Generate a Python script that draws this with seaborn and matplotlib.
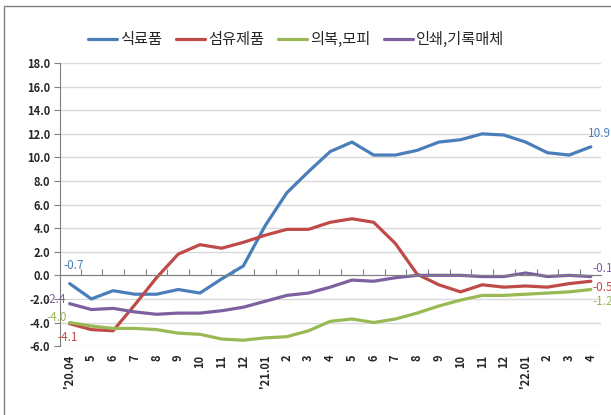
import pandas as pd
import matplotlib.pyplot as plt
import matplotlib.patches as mpatches
import seaborn as sns

# Monthly data, '20.04 ~ '22.04
months = ["'20.04", "5", "6", "7", "8", "9", "10", "11", "12",
          "'21.01", "2", "3", "4", "5", "6", "7", "8", "9", "10", "11", "12",
          "'22.01", "2", "3", "4"]
food = [-0.7, -2.0, -1.3, -1.6, -1.6, -1.2, -1.5, -0.3, 0.8,
        4.2, 7.0, 8.8, 10.5, 11.3, 10.2, 10.2, 10.6, 11.3, 11.5, 12.0, 11.9,
        11.3, 10.4, 10.2, 10.9]
textile = [-4.1, -4.6, -4.7, -2.5, -0.2, 1.8, 2.6, 2.3, 2.8,
           3.4, 3.9, 3.9, 4.5, 4.8, 4.5, 2.7, 0.1, -0.8, -1.4, -0.8, -1.0,
           -0.9, -1.0, -0.7, -0.5]
apparel = [-4.0, -4.3, -4.5, -4.5, -4.6, -4.9, -5.0, -5.4, -5.5,
           -5.3, -5.2, -4.7, -3.9, -3.7, -4.0, -3.7, -3.2, -2.6, -2.1, -1.7, -1.7,
           -1.6, -1.5, -1.4, -1.2]
printing = [-2.4, -2.9, -2.8, -3.1, -3.3, -3.2, -3.2, -3.0, -2.7,
            -2.2, -1.7, -1.5, -1.0, -0.4, -0.5, -0.2, 0.0, 0.0, 0.0, -0.1, -0.1,
            0.2, -0.1, 0.0, -0.1]
series_names = ['식료품', '섬유제품', '의복,모피', '인쇄,기록매체']
colors = ['#4A7EBB', '#BE4B48', '#98B954', '#7D60A0']

series = [food, textile, apparel, printing]
rows = []
for name, vals in zip(series_names, series):
    for i, v in enumerate(vals):
        rows.append({'idx': i, 'value': v, 'series': name})
df = pd.DataFrame(rows)

sns.set_style('white')
plt.rcParams['font.family'] = ['Noto Sans CJK KR', 'DejaVu Sans']

fig = plt.figure(figsize=(6.11, 4.15), dpi=100)
ax = fig.add_axes([0.098, 0.166, 0.885, 0.682])

sns.lineplot(data=df, x='idx', y='value', hue='series', hue_order=series_names,
             palette=colors, linewidth=2.3, sort=False, ax=ax)

ax.set_ylim(-6, 18)
ax.set_xlim(-0.45, len(months) - 0.55)
ax.set_yticks(range(-6, 19, 2))
ax.set_yticklabels([f'{v:.1f}' for v in range(-6, 19, 2)], fontsize=8, fontweight='bold')
ax.yaxis.grid(True, color='#D9D9D9', linewidth=1)
ax.tick_params(axis='y', length=4, color='#808080', direction='out', pad=3, left=True)
for s in ['top', 'right']:
    ax.spines[s].set_visible(False)
ax.spines['left'].set_color('#808080')

# category axis line at zero with ticks between categories
ax.spines['bottom'].set_position(('data', 0))
ax.spines['bottom'].set_color('#808080')
ax.set_xticks([i + 0.5 for i in range(len(months) - 1)])
ax.set_xticklabels([])
ax.tick_params(axis='x', direction='in', length=4, color='#808080', bottom=True)
ax.set_xlabel('')
ax.set_ylabel('')

# month labels at the bottom
sec = ax.secondary_xaxis(0)
sec.set_xticks(range(len(months)))
sec.set_xticklabels(months, rotation=90, fontsize=8, fontweight='bold')
sec.tick_params(length=0, pad=6)
sec.spines['bottom'].set_visible(False)

# first / last value labels (offsets in pixels)
first_offsets = [(4, 18), (-2, -14), (-13, 5), (-14, 4)]
for vals, c, off in zip(series, colors, first_offsets):
    ax.annotate(f'{vals[0]:.1f}', (0, vals[0]), xytext=off, textcoords='offset pixels',
                color=c, fontsize=8.5, ha='center', va='center')
last_offsets = [(-3, 13), (2, -6), (2, -12), (2, 8)]
for vals, c, off in zip(series, colors, last_offsets):
    ax.annotate(f'{vals[-1]:.1f}', (len(vals) - 1, vals[-1]), xytext=off,
                textcoords='offset pixels', color=c, fontsize=8.5, ha='left', va='center',
                annotation_clip=False)

handles, labels = ax.get_legend_handles_labels()
ax.legend_.remove()
fig.legend(handles, labels, loc='center', bbox_to_anchor=(0.485, 0.904), ncol=4,
           frameon=False, fontsize=11, handlelength=1.9, columnspacing=0.9,
           handletextpad=0.2)

fig.patches.append(mpatches.Rectangle((0.007, -0.1), 1.1, 1.085, transform=fig.transFigure,
                                      fill=False, edgecolor='#808080', linewidth=1))

fig.savefig('out.png', dpi=100)
